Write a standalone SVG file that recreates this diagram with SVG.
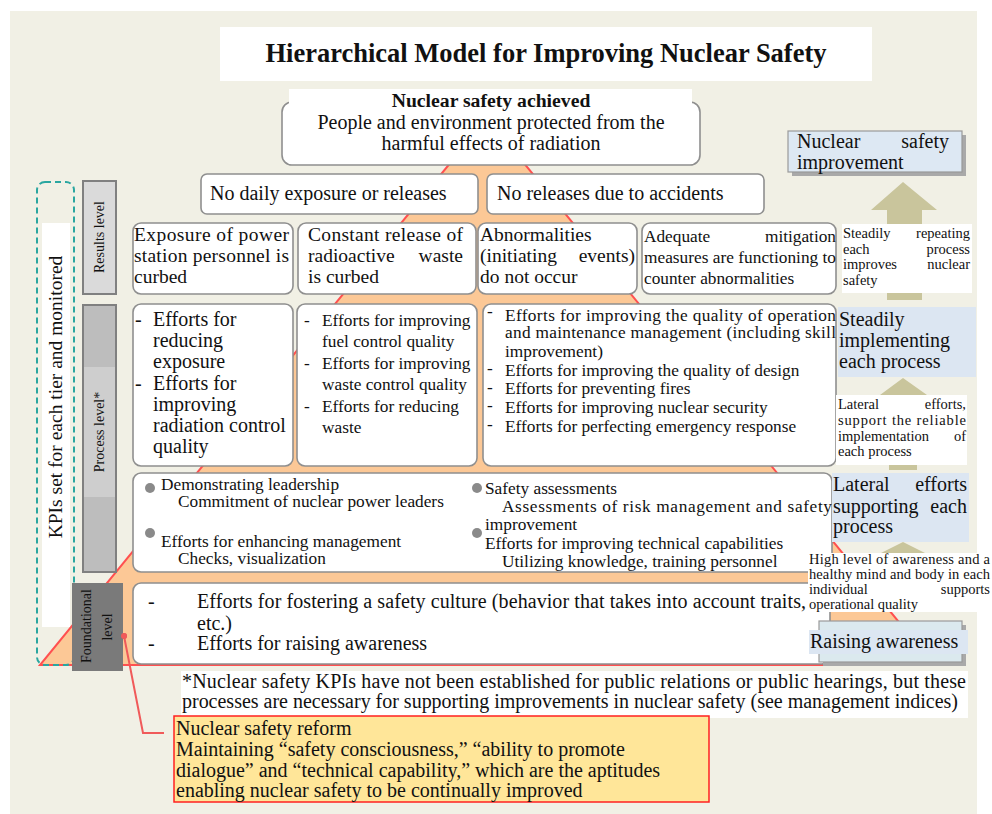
<svg xmlns="http://www.w3.org/2000/svg" width="992" height="814" viewBox="0 0 992 814">
<style>
text{font-family:"Liberation Serif","Times New Roman",serif;fill:#111}
.t19{font-size:19.5px}
.t20{font-size:20px}
.t17{font-size:17.3px}
.t14{font-size:14.5px}
.box{fill:#fff;stroke:#8f8f8f;stroke-width:1.6}
.blue{fill:#dde8f3;stroke:#9a9a9a;stroke-width:1.2}
.shadow{fill:#a9a9a9}
.white{fill:#fff}
.arrow{fill:#c9c59c}
.bul{fill:#8a8a8a}
.red{stroke:#f05a5a;stroke-width:2;fill:none}
</style>
<rect x="0" y="0" width="992" height="814" fill="#fff"/>
<rect x="10" y="11" width="967" height="803" fill="#f1f0e5"/>
<g id="title"><rect x="220" y="27" width="652" height="54" class="white"/>
<text x="546" y="62" font-size="26.5" font-weight="bold" text-anchor="middle">Hierarchical Model for Improving Nuclear Safety</text></g>
<g id="pyramid"><polygon points="487,118 40,665 934,665" fill="#fcc896" stroke="#ff5050" stroke-width="2"/></g>
<g id="n-achieved"><rect x="282" y="102" width="418" height="63" rx="10" class="box"/><rect x="289" y="89" width="403" height="20" class="white"/>
<text x="491" y="107" font-size="19.7" font-weight="bold" text-anchor="middle">Nuclear safety achieved</text>
<text x="491" y="129" class="t20" text-anchor="middle">People and environment protected from the</text>
<text x="491" y="150" class="t20" text-anchor="middle">harmful effects of radiation</text></g>
<g id="n-daily"><rect x="201" y="174" width="277" height="40" rx="6" class="box"/><text x="210" y="200" class="t20">No daily exposure or releases</text></g>
<g id="n-accidents"><rect x="487" y="174" width="277" height="40" rx="6" class="box"/><text x="497" y="200" class="t20">No releases due to accidents</text></g>
<g id="r1"><rect x="133" y="223" width="160" height="71" rx="8" class="box"/>
<text x="134" y="241" class="t19" textLength="155" lengthAdjust="spacing">Exposure of power</text>
<text x="134" y="262" class="t19" textLength="155" lengthAdjust="spacing">station personnel is</text>
<text x="134" y="283" class="t19">curbed</text></g>
<g id="r2"><rect x="298" y="223" width="178" height="71" rx="8" class="box"/>
<text x="308" y="241" class="t19" textLength="155" lengthAdjust="spacing">Constant release of</text>
<text x="308" y="262" class="t19">radioactive</text><text x="463" y="262" class="t19" text-anchor="end">waste</text>
<text x="308" y="283" class="t19">is curbed</text></g>
<g id="r3"><rect x="478" y="223" width="159" height="71" rx="8" class="box"/>
<text x="480" y="241" class="t19">Abnormalities</text>
<text x="480" y="262" class="t19">(initiating</text><text x="635" y="262" class="t19" text-anchor="end">events)</text>
<text x="480" y="283" class="t19">do not occur</text></g>
<g id="r4"><rect x="642" y="223" width="194" height="71" rx="8" class="box"/>
<text x="644" y="242" class="t17">Adequate</text><text x="836" y="242" class="t17" text-anchor="end">mitigation</text>
<text x="644" y="263" class="t17" textLength="192" lengthAdjust="spacing">measures are functioning to</text>
<text x="644" y="284" class="t17">counter abnormalities</text></g>
<g id="pA"><rect x="133" y="304" width="160" height="162" rx="8" class="box"/>
<text x="135" y="326" class="t20">-</text><text x="135" y="390" class="t20">-</text>
<text x="153" y="326" class="t20">Efforts for</text>
<text x="153" y="347" class="t20">reducing</text>
<text x="153" y="368" class="t20">exposure</text>
<text x="153" y="390" class="t20">Efforts for</text>
<text x="153" y="411" class="t20">improving</text>
<text x="153" y="432" class="t20">radiation control</text>
<text x="153" y="453" class="t20">quality</text></g>
<g id="pB"><rect x="297" y="304" width="180" height="162" rx="8" class="box"/>
<text x="304" y="326" class="t17">-</text><text x="304" y="369" class="t17">-</text><text x="304" y="412" class="t17">-</text>
<text x="322" y="326" class="t17">Efforts for improving</text>
<text x="322" y="347" class="t17">fuel control quality</text>
<text x="322" y="369" class="t17">Efforts for improving</text>
<text x="322" y="390" class="t17">waste control quality</text>
<text x="322" y="412" class="t17">Efforts for reducing</text>
<text x="322" y="433" class="t17">waste</text></g>
<g id="pC"><rect x="483" y="304" width="353" height="162" rx="8" class="box"/>
<text x="487" y="317" class="t17">-</text><text x="487" y="374" class="t17">-</text><text x="487" y="393" class="t17">-</text><text x="487" y="411" class="t17">-</text><text x="487" y="430" class="t17">-</text>
<text x="505" y="321" class="t17" textLength="331" lengthAdjust="spacing">Efforts for improving the quality of operation</text>
<text x="505" y="338" class="t17" textLength="331" lengthAdjust="spacing">and maintenance management (including skill</text>
<text x="505" y="357" class="t17">improvement)</text>
<text x="505" y="376" class="t17">Efforts for improving the quality of design</text>
<text x="505" y="394" class="t17">Efforts for preventing fires</text>
<text x="505" y="413" class="t17">Efforts for improving nuclear security</text>
<text x="505" y="432" class="t17">Efforts for perfecting emergency response</text></g>
<g id="pD"><rect x="133" y="473" width="699" height="99" rx="8" class="box"/>
<circle cx="150" cy="488" r="5" class="bul"/><circle cx="150" cy="533" r="5" class="bul"/><circle cx="477" cy="488" r="5" class="bul"/><circle cx="477" cy="533" r="5" class="bul"/>
<text x="161" y="490" class="t17">Demonstrating leadership</text>
<text x="178" y="507" class="t17">Commitment of nuclear power leaders</text>
<text x="161" y="547" class="t17">Efforts for enhancing management</text>
<text x="178" y="564" class="t17">Checks, visualization</text>
<text x="485" y="494" class="t17">Safety assessments</text>
<text x="502" y="512" class="t17" textLength="330" lengthAdjust="spacing">Assessments of risk management and safety</text>
<text x="485" y="530" class="t17">improvement</text>
<text x="485" y="549" class="t17">Efforts for improving technical capabilities</text>
<text x="502" y="567" class="t17">Utilizing knowledge, training personnel</text></g>
<g id="fE"><rect x="133" y="583" width="697" height="81" rx="8" class="box"/>
<text x="148" y="608" class="t20">-</text><text x="148" y="650" class="t20">-</text>
<text x="197" y="608" class="t20" textLength="609" lengthAdjust="spacing">Efforts for fostering a safety culture (behavior that takes into account traits,</text>
<text x="197" y="630" class="t20">etc.)</text>
<text x="197" y="650" class="t20">Efforts for raising awareness</text></g>
<g id="connectors">
<polygon points="903,182 937,210 922,210 922,300 887,300 887,210 871,210" class="arrow"/>
<polygon points="903,378 927,395 917,395 917,470 889,470 889,395 880,395" class="arrow"/>
<polygon points="903,542 925,553 915,553 915,600 891,600 891,553 881,553" class="arrow"/>
<polyline points="124,636 143,733 164,733" class="red"/><circle cx="124" cy="636" r="3" fill="#f05a5a"/>
</g>
<g id="l-improvement"><rect x="792" y="135" width="174" height="41" class="shadow"/><rect x="788" y="131" width="174" height="41" class="blue"/>
<text x="797" y="148" class="t20">Nuclear</text><text x="949" y="148" class="t20" text-anchor="end">safety</text>
<text x="797" y="169" class="t20">improvement</text></g>
<g id="l-repeating"><rect x="842" y="224" width="130" height="69" class="white"/>
<text x="843" y="238" class="t14">Steadily</text><text x="970" y="238" class="t14" text-anchor="end">repeating</text>
<text x="843" y="254" class="t14">each</text><text x="970" y="254" class="t14" text-anchor="end">process</text>
<text x="843" y="269" class="t14">improves</text><text x="970" y="269" class="t14" text-anchor="end">nuclear</text>
<text x="843" y="285" class="t14">safety</text></g>
<g id="l-implementing"><rect x="838" y="307" width="138" height="70" fill="#dce6f2"/>
<text x="839" y="326" class="t20">Steadily</text><text x="839" y="347" class="t20">implementing</text><text x="839" y="368" class="t20">each process</text></g>
<g id="l-support"><rect x="836" y="395" width="131" height="70" class="white"/>
<text x="838" y="409" class="t14">Lateral</text><text x="966" y="409" class="t14" text-anchor="end">efforts,</text>
<text x="838" y="425" class="t14" textLength="128" lengthAdjust="spacing">support the reliable</text>
<text x="838" y="441" class="t14">implementation</text><text x="966" y="441" class="t14" text-anchor="end">of</text>
<text x="838" y="456" class="t14">each process</text></g>
<g id="l-lateral"><rect x="832" y="473" width="137" height="69" fill="#dce6f2"/>
<text x="833" y="491" class="t20">Lateral</text><text x="967" y="491" class="t20" text-anchor="end">efforts</text>
<text x="833" y="513" class="t20">supporting</text><text x="967" y="513" class="t20" text-anchor="end">each</text>
<text x="833" y="533" class="t20">process</text></g>
<g id="l-awareness-note"><rect x="808" y="553" width="184" height="59" class="white"/>
<text x="809" y="564" class="t14" textLength="181" lengthAdjust="spacing">High level of awareness and a</text>
<text x="809" y="579" class="t14" textLength="181" lengthAdjust="spacing">healthy mind and body in each</text>
<text x="809" y="594" class="t14">individual</text><text x="990" y="594" class="t14" text-anchor="end">supports</text>
<text x="809" y="609" class="t14">operational quality</text></g>
<g id="l-raising"><rect x="823" y="625" width="143" height="41" class="shadow"/><rect x="819" y="621" width="143" height="41" fill="#dbe9ee" stroke="#9a9a9a" stroke-width="1.2"/>
<rect x="809" y="630" width="159" height="24" fill="#dce6f2"/>
<text x="810" y="648" class="t20">Raising awareness</text></g>
<g id="kpi"><rect x="37" y="182" width="37" height="483" rx="8" fill="none" stroke="#2aa6a0" stroke-width="2" stroke-dasharray="6,4"/>
<rect x="42" y="223" width="28" height="404" class="white"/>
<text transform="translate(62,397) rotate(-90)" font-size="19.5" text-anchor="middle">KPIs set for each tier and monitored</text></g>
<g id="lvl-results"><rect x="83" y="181" width="33" height="113" fill="#dadada" stroke="#808080" stroke-width="2"/>
<text transform="translate(104,237) rotate(-90)" font-size="14" text-anchor="middle">Results level</text></g>
<g id="lvl-process"><rect x="83" y="305" width="33" height="267" fill="#bdbdbd" stroke="#808080" stroke-width="2"/><rect x="84" y="367" width="31" height="130" fill="#cecece"/>
<text transform="translate(104,432) rotate(-90)" font-size="14" text-anchor="middle">Process level*</text></g>
<g id="lvl-foundational"><rect x="72" y="583" width="51" height="88" fill="#7a7a7a"/>
<text transform="translate(91,626) rotate(-90)" font-size="14" text-anchor="middle">Foundational</text>
<text transform="translate(112,627) rotate(-90)" font-size="14" text-anchor="middle">level</text></g>
<circle cx="124" cy="636" r="3" fill="#f05a5a"/>
<g id="footnote"><rect x="181" y="671" width="787" height="47" class="white"/>
<text x="182" y="688" class="t20" textLength="784" lengthAdjust="spacing">*Nuclear safety KPIs have not been established for public relations or public hearings, but these</text>
<text x="182" y="708" class="t20" textLength="776" lengthAdjust="spacing">processes are necessary for supporting improvements in nuclear safety (see management indices)</text></g>
<g id="reform"><rect x="174" y="716" width="535" height="86" fill="#ffe699" stroke="#ff2020" stroke-width="1.5"/>
<text x="176" y="735" class="t20">Nuclear safety reform</text>
<text x="176" y="756" class="t20">Maintaining “safety consciousness,” “ability to promote</text>
<text x="176" y="777" class="t20">dialogue” and “technical capability,” which are the aptitudes</text>
<text x="176" y="797" class="t20">enabling nuclear safety to be continually improved</text></g>
</svg>
